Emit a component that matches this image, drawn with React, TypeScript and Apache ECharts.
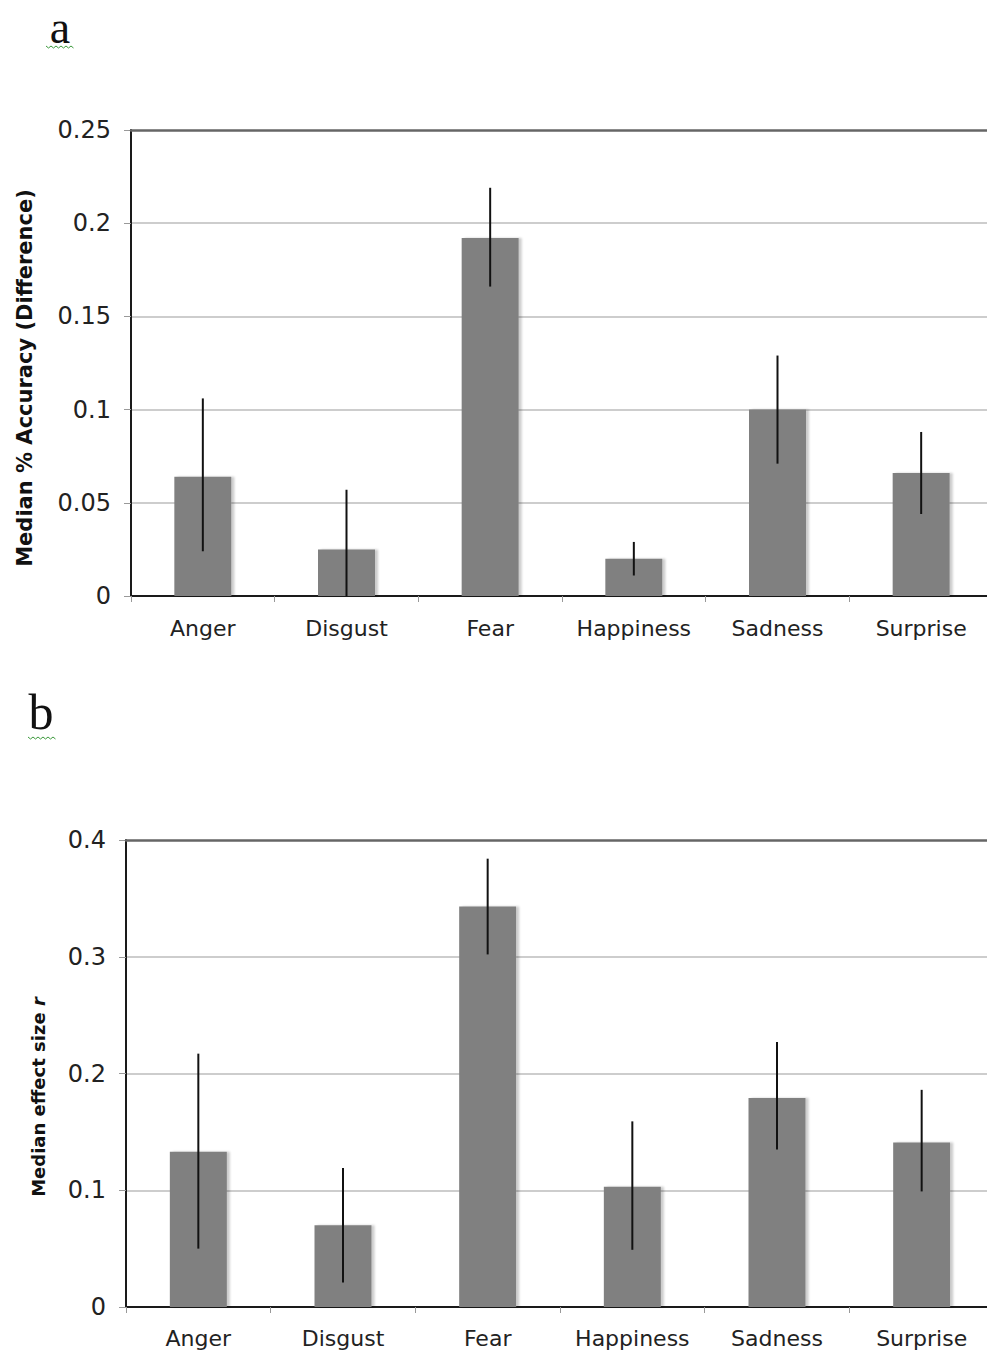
import React, { useEffect, useRef } from "react";
import * as echarts from "echarts";

const categories = ["Anger", "Disgust", "Fear", "Happiness", "Sadness", "Surprise"];

// Panel a: median % accuracy (difference)
const accuracyMedian = [0.064, 0.025, 0.192, 0.02, 0.1, 0.066];
const accuracyLow = [0.024, 0.0, 0.166, 0.011, 0.071, 0.044];
const accuracyHigh = [0.106, 0.057, 0.219, 0.029, 0.129, 0.088];
const accuracyTicks = [0, 0.05, 0.1, 0.15, 0.2, 0.25];
const accuracyTickLabels = ["0", "0.05", "0.1", "0.15", "0.2", "0.25"];

// Panel b: median effect size r
const effectMedian = [0.133, 0.07, 0.343, 0.103, 0.179, 0.141];
const effectLow = [0.05, 0.021, 0.302, 0.049, 0.135, 0.099];
const effectHigh = [0.217, 0.119, 0.384, 0.159, 0.227, 0.186];
const effectTicks = [0, 0.1, 0.2, 0.3, 0.4];
const effectTickLabels = ["0", "0.1", "0.2", "0.3", "0.4"];

const FONT = "DejaVu Sans";

function tickFormatter(ticks: number[], labels: string[]) {
  return (v: number) => {
    for (let i = 0; i < ticks.length; i++) {
      if (Math.abs(ticks[i] - v) < 1e-9) return labels[i];
    }
    return "";
  };
}

function errorSeries(low: number[], high: number[], axisIndex: number) {
  return {
    type: "custom",
    xAxisIndex: axisIndex * 2,
    yAxisIndex: axisIndex,
    z: 5,
    encode: { x: 0, y: [1, 2] },
    data: low.map((l, i) => [i, l, high[i]]),
    renderItem: (params: any, api: any) => {
      const idx = api.value(0);
      const p1 = api.coord([idx, api.value(1)]);
      const p2 = api.coord([idx, api.value(2)]);
      return {
        type: "line",
        shape: { x1: p1[0], y1: p1[1], x2: p2[0], y2: p2[1] },
        style: { stroke: "#111", lineWidth: 2 },
      };
    },
  };
}

function squiggle(x0: number, y0: number, n: number): number[][] {
  const pts: number[][] = [];
  for (let i = 0; i <= n; i++) {
    pts.push([x0 + i * 2.5, y0 + (i % 2 === 0 ? 0 : 2)]);
  }
  return pts;
}

export default function App() {
  const ref = useRef<HTMLDivElement>(null);

  useEffect(() => {
    if (!ref.current) return;
    const chart = echarts.init(ref.current, undefined, { renderer: "svg" });

    const xCat = (gridIndex: number, margin: number) => ({
      type: "category",
      gridIndex,
      data: categories,
      position: "bottom",
      axisLine: { show: true, lineStyle: { color: "#1a1a1a", width: 2 } },
      axisTick: { show: true, interval: 0, length: 6, lineStyle: { color: "#999", width: 1 } },
      axisLabel: { interval: 0, color: "#222", fontFamily: FONT, fontSize: 22, margin },
      splitLine: { show: false },
    });
    const xTop = (gridIndex: number) => ({
      type: "category",
      gridIndex,
      data: categories,
      position: "top",
      z: 4,
      axisLine: { show: true, lineStyle: { color: "#666", width: 2.5 } },
      axisTick: { show: false },
      axisLabel: { show: false },
      splitLine: { show: false },
    });
    const yVal = (gridIndex: number, max: number, interval: number, ticks: number[], labels: string[]) => ({
      type: "value",
      gridIndex,
      min: 0,
      max,
      interval,
      axisLine: { show: true, lineStyle: { color: "#1a1a1a", width: 2 } },
      axisTick: { show: true, length: 7, lineStyle: { color: "#999", width: 1 } },
      axisLabel: {
        color: "#222",
        fontFamily: FONT,
        fontSize: 24,
        margin: 20,
        formatter: tickFormatter(ticks, labels),
      },
      splitLine: { show: true, showMaxLine: false, lineStyle: { color: "#bdbdbd", width: 1.5 } },
    });

    const barStyle = {
      color: "#808080",
      shadowColor: "rgba(0,0,0,0.2)",
      shadowBlur: 2,
      shadowOffsetX: 3,
      shadowOffsetY: 0,
    };

    chart.setOption({
      animation: false,
      backgroundColor: "#ffffff",
      grid: [
        { left: 131, top: 130, width: 862, height: 466 },
        { left: 126, top: 840, width: 868, height: 467 },
      ],
      xAxis: [xCat(0, 21), xTop(0), xCat(1, 20), xTop(1)],
      yAxis: [
        yVal(0, 0.25, 0.05, accuracyTicks, accuracyTickLabels),
        yVal(1, 0.4, 0.1, effectTicks, effectTickLabels),
      ],
      series: [
        {
          type: "bar",
          xAxisIndex: 0,
          yAxisIndex: 0,
          barWidth: 57,
          data: accuracyMedian,
          itemStyle: barStyle,
        },
        errorSeries(accuracyLow, accuracyHigh, 0),
        {
          type: "bar",
          xAxisIndex: 2,
          yAxisIndex: 1,
          barWidth: 57,
          data: effectMedian,
          itemStyle: barStyle,
        },
        errorSeries(effectLow, effectHigh, 1),
      ],
      graphic: [
        {
          type: "text",
          x: 60,
          y: 27,
          style: {
            text: "a",
            fontFamily: "Liberation Serif",
            fontSize: 46,
            lineHeight: 34,
            fill: "#111",
            align: "center",
            verticalAlign: "middle",
          },
        },
        {
          type: "polyline",
          shape: { points: squiggle(46, 46, 11) },
          style: { stroke: "#3c9a3c", lineWidth: 1, fill: "none" },
        },
        {
          type: "text",
          x: 41,
          y: 712,
          style: {
            text: "b",
            fontFamily: "Liberation Serif",
            fontSize: 50,
            lineHeight: 40,
            fill: "#111",
            align: "center",
            verticalAlign: "middle",
          },
        },
        {
          type: "polyline",
          shape: { points: squiggle(28, 737, 11) },
          style: { stroke: "#3c9a3c", lineWidth: 1, fill: "none" },
        },
        {
          type: "text",
          x: 25,
          y: 378,
          rotation: Math.PI / 2,
          style: {
            text: "Median % Accuracy (Difference)",
            fontFamily: FONT,
            fontWeight: "bold",
            fontSize: 21,
            fill: "#111",
            align: "center",
            verticalAlign: "middle",
          },
        },
        {
          type: "text",
          x: 38,
          y: 1097,
          rotation: Math.PI / 2,
          style: {
            text: "Median effect size {i|r}",
            fontFamily: FONT,
            fontWeight: "bold",
            fontSize: 18,
            fill: "#111",
            align: "center",
            verticalAlign: "middle",
            rich: {
              i: {
                fontFamily: FONT,
                fontWeight: "bold",
                fontStyle: "italic",
                fontSize: 18,
                fill: "#111",
              },
            },
          },
        },
      ],
    });

    return () => {
      chart.dispose();
    };
  }, []);

  return (
    <div
      style={{
        position: "absolute",
        left: 0,
        top: 0,
        width: 987,
        height: 1355,
        overflow: "hidden",
        background: "#fff",
      }}
    >
      <div ref={ref} style={{ width: 1000, height: 1355 }} />
    </div>
  );
}
